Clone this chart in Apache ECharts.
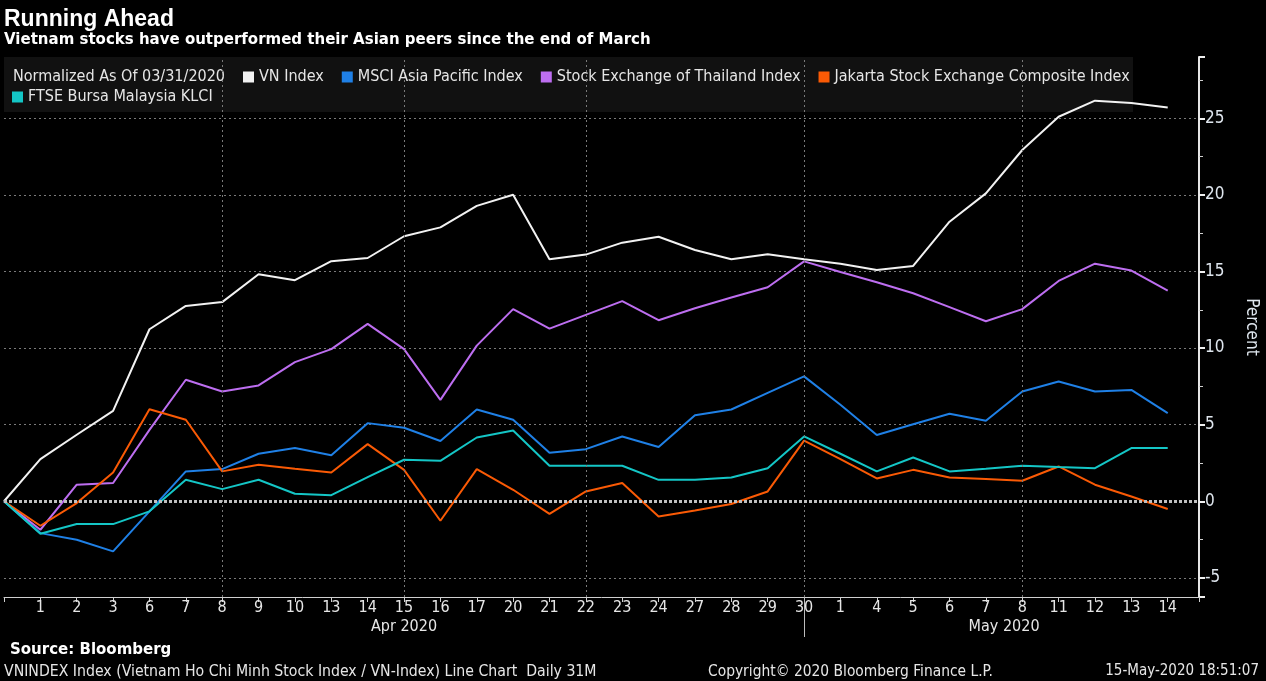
<!DOCTYPE html>
<html>
<head>
<meta charset="utf-8">
<title>Running Ahead</title>
<script src="https://cdn.jsdelivr.net/npm/echarts/dist/echarts.min.js"></script>
<style>
  html, body { margin: 0; padding: 0; background: #000; }
  #chart { width: 1266px; height: 681px; }
</style>
</head>
<body>
<div id="chart"></div>
<script>
// trading days, Mar 31 2020 .. May 14 2020 (index 0 = Mar 31, not labelled)
var days = [31, 1, 2, 3, 6, 7, 8, 9, 10, 13, 14, 15, 16, 17, 20, 21, 22, 23, 24, 27, 28, 29, 30,
            1, 4, 5, 6, 7, 8, 11, 12, 13, 14];
var monthLabels = ['Apr 2020', 'May 2020'];
var monthLabelAt = [11, 27.5];
var monthBreakAt = [22];      // Apr 30 / May 1 separator
var gridDays = [6, 11, 16, 22, 28];

var vnIndex = [0, 2.75, 4.34, 5.9, 11.23, 12.75, 13.0, 14.82, 14.43, 15.67, 15.88, 17.3, 17.88, 19.28, 20.01, 15.8,
               16.1, 16.88, 17.27, 16.4, 15.8, 16.12, 15.8, 15.5, 15.1, 15.36, 18.25, 20.1, 22.93, 25.1, 26.15, 26.0, 25.7];
var msciAsia = [0, -2.08, -2.51, -3.27, -0.66, 1.95, 2.1, 3.1, 3.47, 3.01, 5.1, 4.8, 3.93, 5.99, 5.32, 3.16,
                3.4, 4.23, 3.54, 5.62, 5.99, 7.08, 8.15, 6.3, 4.32, 5.03, 5.71, 5.25, 7.16, 7.82, 7.16, 7.27, 5.75];
var thailand = [0, -1.86, 1.08, 1.19, 4.66, 7.93, 7.16, 7.56, 9.08, 9.93, 11.58, 9.93, 6.62, 10.16, 12.54, 11.27,
                12.17, 13.06, 11.82, 12.6, 13.3, 13.97, 15.66, 14.97, 14.3, 13.58, 12.67, 11.75, 12.54, 14.38, 15.51, 15.06, 13.75];
var jakarta = [0, -1.6, -0.12, 1.88, 6.01, 5.32, 1.95, 2.38, 2.12, 1.88, 3.73, 2.05, -1.27, 2.1, 0.75, -0.82,
               0.64, 1.19, -0.99, -0.6, -0.18, 0.64, 3.96, 2.75, 1.49, 2.05, 1.55, 1.45, 1.34, 2.27, 1.08, 0.31, -0.51];
var ftseKlci = [0, -2.12, -1.49, -1.49, -0.66, 1.4, 0.79, 1.4, 0.49, 0.4, 1.58, 2.71, 2.64, 4.16, 4.62, 2.32,
                2.32, 2.32, 1.4, 1.4, 1.55, 2.16, 4.23, 3.1, 1.95, 2.86, 1.95, 2.12, 2.32, 2.23, 2.16, 3.47, 3.47];

var NARROW = '"Liberation Sans Narrow", "DejaVu Sans Condensed", "Liberation Sans", sans-serif';
var BOLD = '"Liberation Sans", Arial, sans-serif';
var WIDE = '"DejaVu Sans", Verdana, sans-serif';
var NOTE = 'Normalized As Of 03/31/2020';

function pairs(values) {
    return values.map(function (v, i) { return [i, v]; });
}

function lineSeries(name, color, values) {
    return {
        name: name,
        type: 'line',
        color: color,
        data: pairs(values),
        symbol: 'none',
        lineStyle: { color: color, width: 2 },
        z: 3
    };
}

var chart = echarts.init(document.getElementById('chart'));

var option = {
    backgroundColor: '#000',
    animation: false,
    title: [
        { text: 'Running Ahead', left: 4, top: 8, padding: 0,
          textStyle: { color: '#fff', fontSize: 23, fontWeight: 'bold', fontFamily: BOLD } },
        { text: 'Vietnam stocks have outperformed their Asian peers since the end of March', left: 4, top: 33, padding: 0,
          textStyle: { color: '#fff', fontSize: 15, fontWeight: 'bold', fontFamily: WIDE } },
        { text: 'Source: Bloomberg', left: 10, top: 643, padding: 0,
          textStyle: { color: '#fff', fontSize: 15, fontWeight: 'bold', fontFamily: WIDE } },
        { text: 'VNINDEX Index (Vietnam Ho Chi Minh Stock Index / VN-Index) Line Chart  Daily 31M', left: 4, top: 664, padding: 0,
          textStyle: { color: '#e6e6e6', fontSize: 15.7, fontWeight: 'normal', fontFamily: NARROW } },
        { text: 'Copyright\u00a9 2020 Bloomberg Finance L.P.', left: 708, top: 664, padding: 0,
          textStyle: { color: '#e6e6e6', fontSize: 15.4, fontWeight: 'normal', fontFamily: NARROW } },
        { text: '15-May-2020 18:51:07', right: 7, top: 664, padding: 0,
          textStyle: { color: '#e6e6e6', fontSize: 15, fontWeight: 'normal', fontFamily: NARROW } }
    ],
    graphic: [
        // legend panel
        { type: 'rect', left: 4, top: 57, z: 1, silent: true,
          shape: { width: 1129, height: 55 }, style: { fill: '#111111' } }
    ],
    legend: [
        {
            data: [{ name: NOTE, icon: 'none' }, 'VN Index', 'MSCI Asia Pacific Index',
                   'Stock Exchange of Thailand Index', 'Jakarta Stock Exchange Composite Index'],
            left: -3, top: 69, padding: 0, icon: 'rect',
            itemWidth: 11, itemHeight: 11, itemGap: 18, selectedMode: false,
            textStyle: { color: '#e6e6e6', fontSize: 16, fontFamily: NARROW }
        },
        {
            data: ['FTSE Bursa Malaysia KLCI'],
            left: 12, top: 89, padding: 0, icon: 'rect',
            itemWidth: 11, itemHeight: 11, selectedMode: false,
            textStyle: { color: '#e6e6e6', fontSize: 16, fontFamily: NARROW }
        }
    ],
    grid: { left: 4, right: 67, top: 57, bottom: 84, containLabel: false, outerBoundsMode: 'none' },
    xAxis: [
        {
            type: 'value', position: 'bottom', min: 0, max: 32.86, interval: 1,
            axisLine: { show: true, onZero: false, lineStyle: { color: '#cfcfcf', width: 1 } },
            axisTick: { show: true, length: 5, lineStyle: { color: '#cfcfcf' } },
            axisLabel: {
                margin: 3, color: '#e6e6e6', fontSize: 16, fontFamily: NARROW,
                formatter: function (v) {
                    if (v !== Math.round(v) || v === 0) return '';
                    return days[v] == null ? '' : String(days[v]);
                }
            },
            splitLine: { show: false }
        },
        {
            type: 'value', position: 'bottom', min: 0, max: 32.86,
            axisLine: { show: false, onZero: false },
            axisTick: { show: true, customValues: monthBreakAt, length: 40, lineStyle: { color: '#bdbdbd' } },
            axisLabel: {
                customValues: monthLabelAt, margin: 22, color: '#e6e6e6', fontSize: 16, fontFamily: NARROW,
                formatter: function (v) {
                    var k = monthLabelAt.indexOf(v);
                    return k < 0 ? '' : monthLabels[k];
                }
            },
            splitLine: { show: false }
        }
    ],
    yAxis: {
        type: 'value', position: 'right', min: -6.25, max: 29, minInterval: 5, maxInterval: 5,
        name: 'Percent', nameLocation: 'middle', nameRotate: -90, nameGap: 44,
        nameTextStyle: { color: '#dfe6ee', fontSize: 17, fontFamily: NARROW },
        axisLine: { show: true, onZero: false, lineStyle: { color: '#e6e6e6', width: 2 } },
        axisTick: { show: true, length: 6, lineStyle: { color: '#f0f0f0', width: 2 } },
        minorTick: { show: true, splitNumber: 2, length: 4, lineStyle: { color: '#cfcfcf' } },
        axisLabel: { margin: 6, color: '#dfe6ee', fontSize: 17, fontFamily: NARROW,
                     showMinLabel: false, showMaxLabel: false },
        splitLine: { show: true, showMinLine: false, showMaxLine: false,
                     lineStyle: { color: '#7a7a7a', width: 1, type: [2, 3] } }
    },
    series: [
        {
            // carries the legend note and the extra grid lines
            name: NOTE, type: 'line', data: [], symbol: 'none', z: 2,
            markLine: {
                silent: true, symbol: 'none', label: { show: false },
                lineStyle: { color: '#7a7a7a', width: 1, type: [2, 3] },
                data: gridDays.map(function (d) { return { xAxis: d }; }).concat([
                    { yAxis: 0, lineStyle: { color: '#c0c0c0', width: 3, type: [3, 2] } }
                ])
            }
        },
        lineSeries('VN Index', '#f2f2f2', vnIndex),
        lineSeries('MSCI Asia Pacific Index', '#1f80e6', msciAsia),
        lineSeries('Stock Exchange of Thailand Index', '#bd6ef0', thailand),
        lineSeries('Jakarta Stock Exchange Composite Index', '#fa5a05', jakarta),
        lineSeries('FTSE Bursa Malaysia KLCI', '#14c6c6', ftseKlci)
    ]
};

chart.setOption(option);
</script>
</body>
</html>
